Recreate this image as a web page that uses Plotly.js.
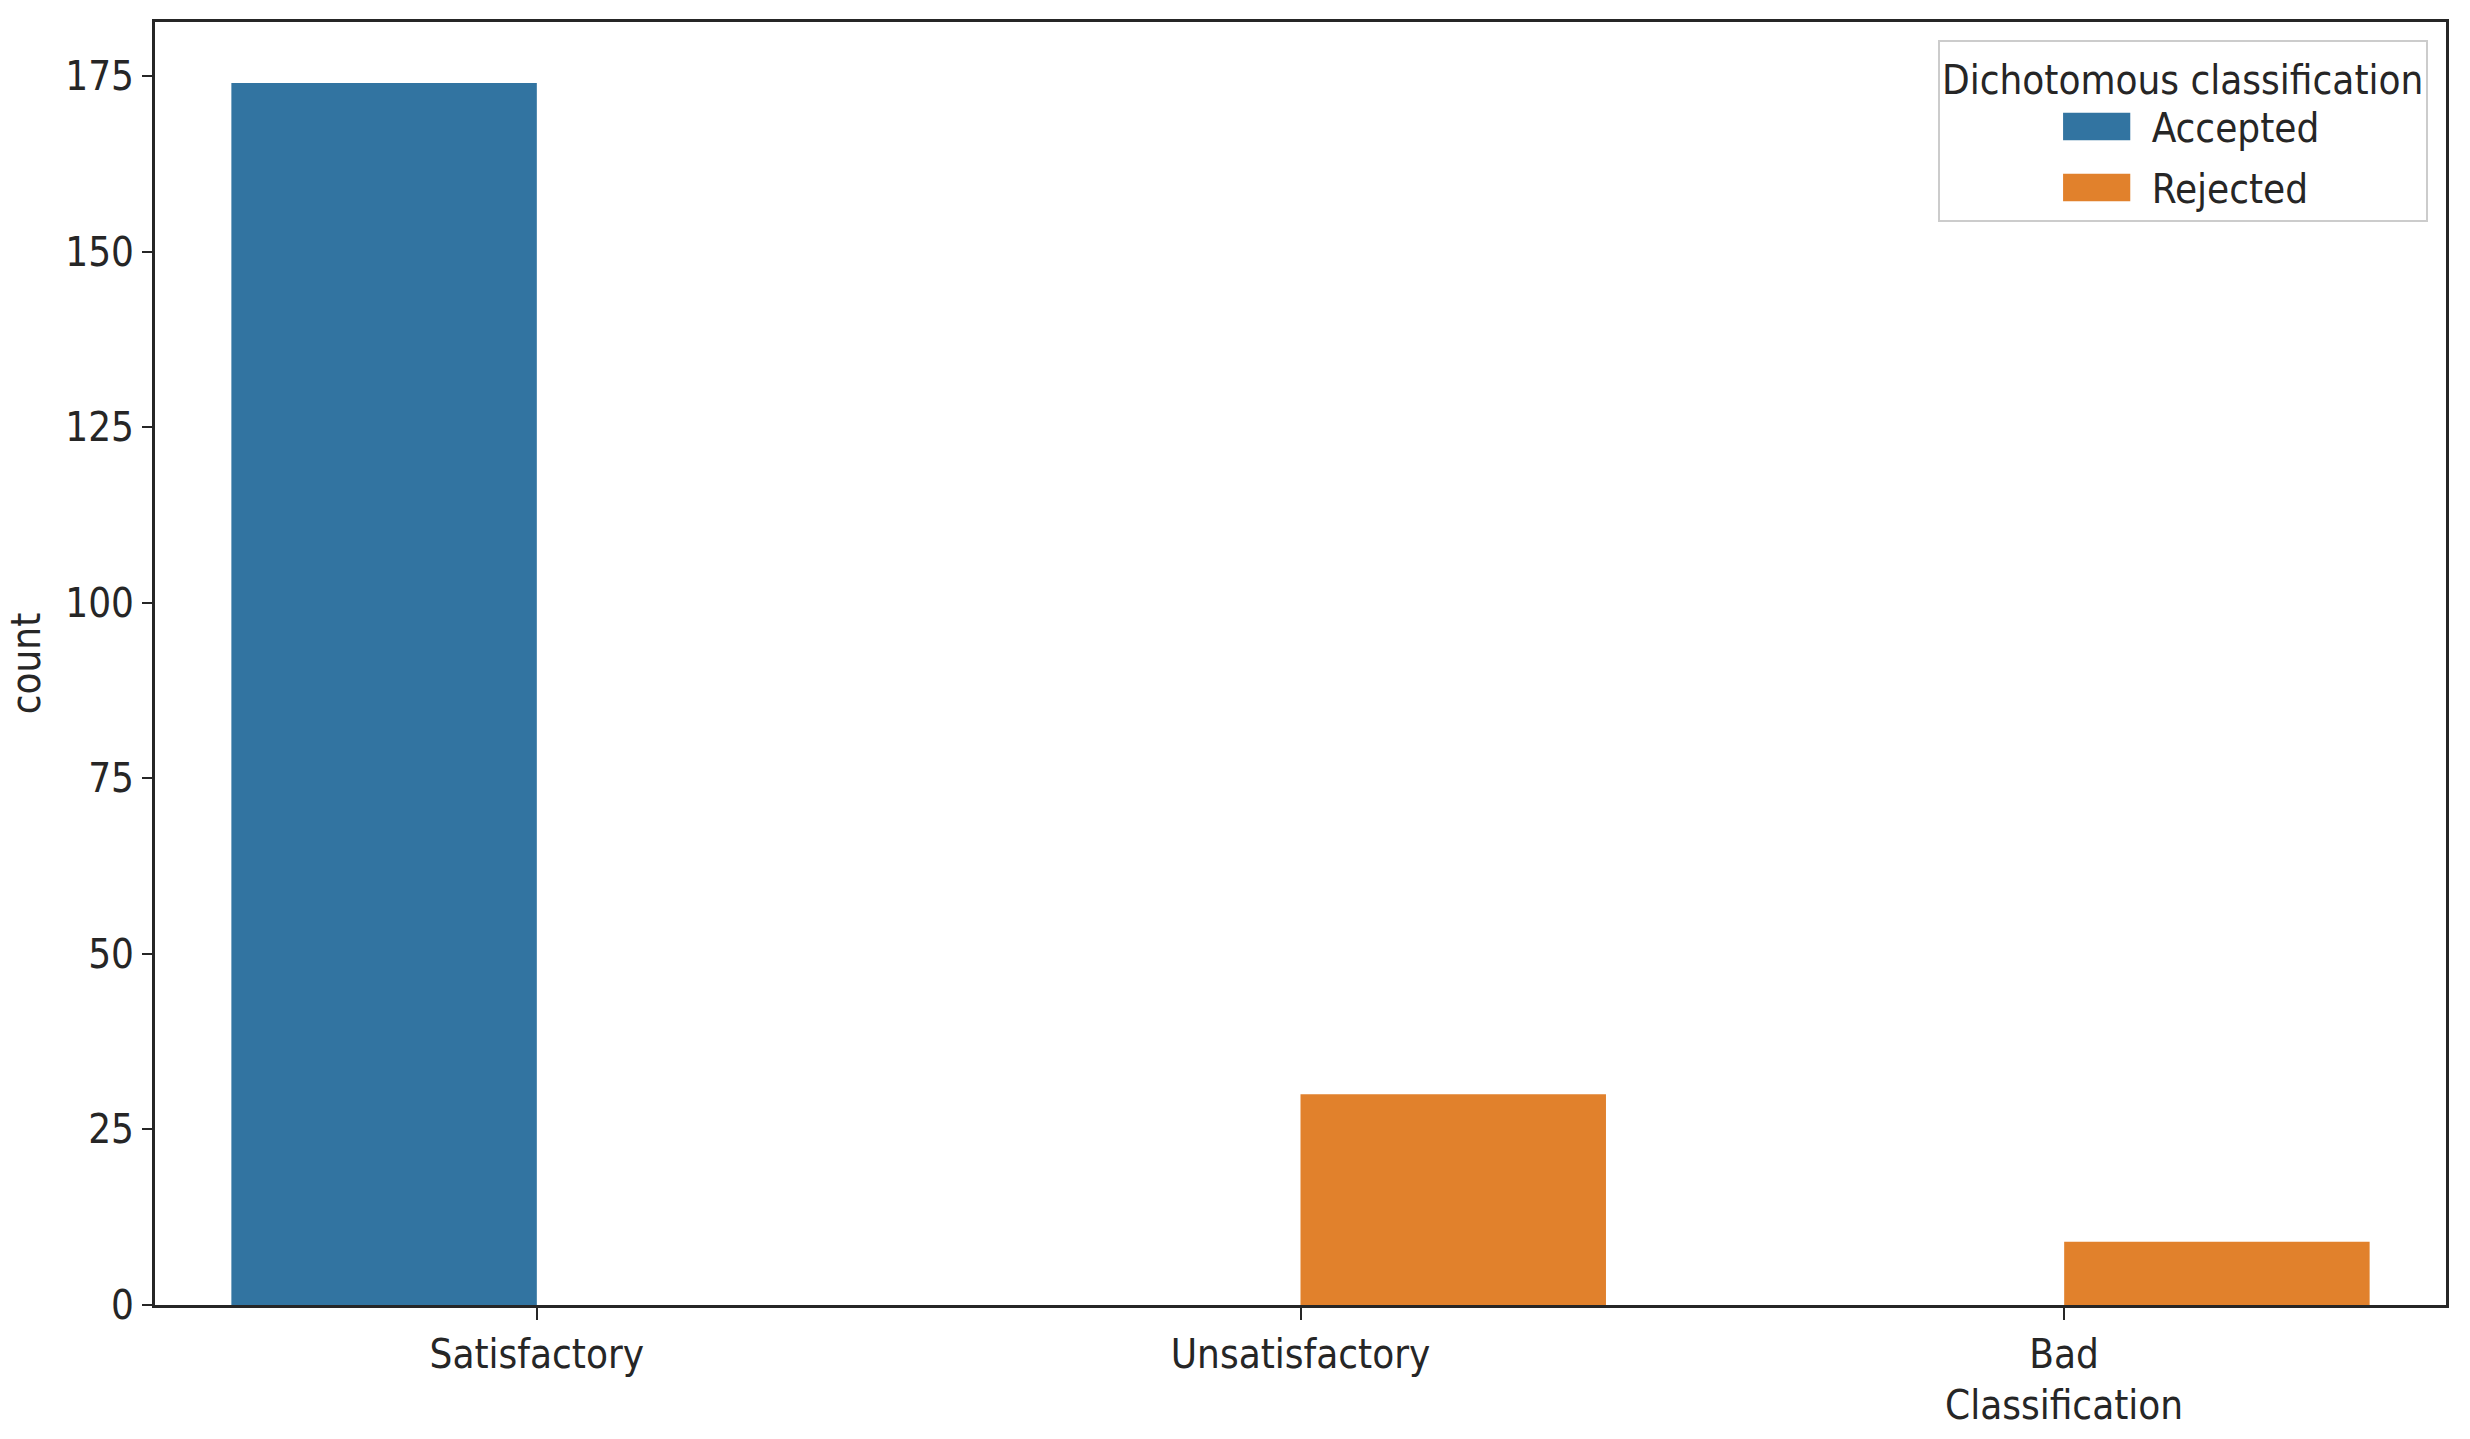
<!DOCTYPE html>
<html>
<head>
<meta charset="utf-8">
<script src="https://cdn.plot.ly/plotly-3.0.1.min.js"></script>
<style>html,body{margin:0;padding:0;background:#fff;}#chart{width:2470px;height:1439px;}</style>
</head>
<body>
<div id="chart"></div>
<script>
const categories = ["Satisfactory", "Unsatisfactory", "Bad"];
const acceptedCounts = [174, null, null];
const rejectedCounts = [null, 30, 9];
const seriesNames = ["Accepted", "Rejected"];
const yTicks = [0, 25, 50, 75, 100, 125, 150, 175];

const FONT = '"DejaVu Sans Condensed", "Liberation Sans Narrow", "DejaVu Sans", sans-serif';
const INK = '#262626';

const traces = [
  {type: 'bar', name: seriesNames[0], x: categories, y: acceptedCounts, legendgroup: 'g1',
   marker: {color: '#3274a1', line: {width: 0}}},
  {type: 'bar', name: seriesNames[1], x: categories, y: rejectedCounts, legendgroup: 'g2',
   marker: {color: '#e1812c', line: {width: 0}}}
];

const layout = {
  width: 2470, height: 1439,
  margin: {l: 155, r: 24, t: 22, b: 134, pad: 0},
  paper_bgcolor: '#fff', plot_bgcolor: '#fff',
  font: {family: FONT, size: 40, color: INK},
  barmode: 'group', bargap: 0.2, bargroupgap: 0,
  showlegend: true,
  xaxis: {
    type: 'category', range: [-0.5, 2.5],
    showgrid: false, zeroline: false,
    showline: true, linecolor: INK, linewidth: 3, mirror: true,
    ticks: 'outside', ticklen: 12, tickwidth: 2, tickcolor: INK,
    tickfont: {family: FONT, size: 40, color: INK}
  },
  yaxis: {
    range: [0, 182.7],
    tickvals: yTicks, ticktext: yTicks.map(String),
    showgrid: false, zeroline: false,
    showline: true, linecolor: INK, linewidth: 3, mirror: true,
    ticks: 'outside', ticklen: 10, tickwidth: 2, tickcolor: INK,
    tickfont: {family: FONT, size: 40, color: INK},
    title: {text: 'count', font: {family: FONT, size: 40, color: INK}, standoff: 13}
  },
  legend: {
    x: 0.992, y: 0.986, xanchor: 'right', yanchor: 'top',
    bgcolor: 'rgba(255,255,255,0.8)', bordercolor: '#cccccc', borderwidth: 2,
    font: {family: FONT, size: 40, color: INK},
    title: {text: 'Dichotomous classification', side: 'top center', font: {family: FONT, size: 40, color: INK}},
    itemwidth: 100, indentation: 102, tracegroupgap: 6
  },
  annotations: [{
    text: 'Classification', xref: 'x', x: 2, yref: 'paper', y: 0,
    yshift: -100, yanchor: 'middle', xanchor: 'center', showarrow: false,
    font: {family: FONT, size: 40, color: INK}
  }]
};

Plotly.newPlot('chart', traces, layout, {displayModeBar: false, staticPlot: true}).then(function(gd){
  gd.querySelectorAll('.legend .legendpoints path').forEach(function(p){
    const t = p.getAttribute('transform') || '';
    p.setAttribute('transform', t + ' scale(5.6,2.3)');
  });
});
</script>
</body>
</html>
